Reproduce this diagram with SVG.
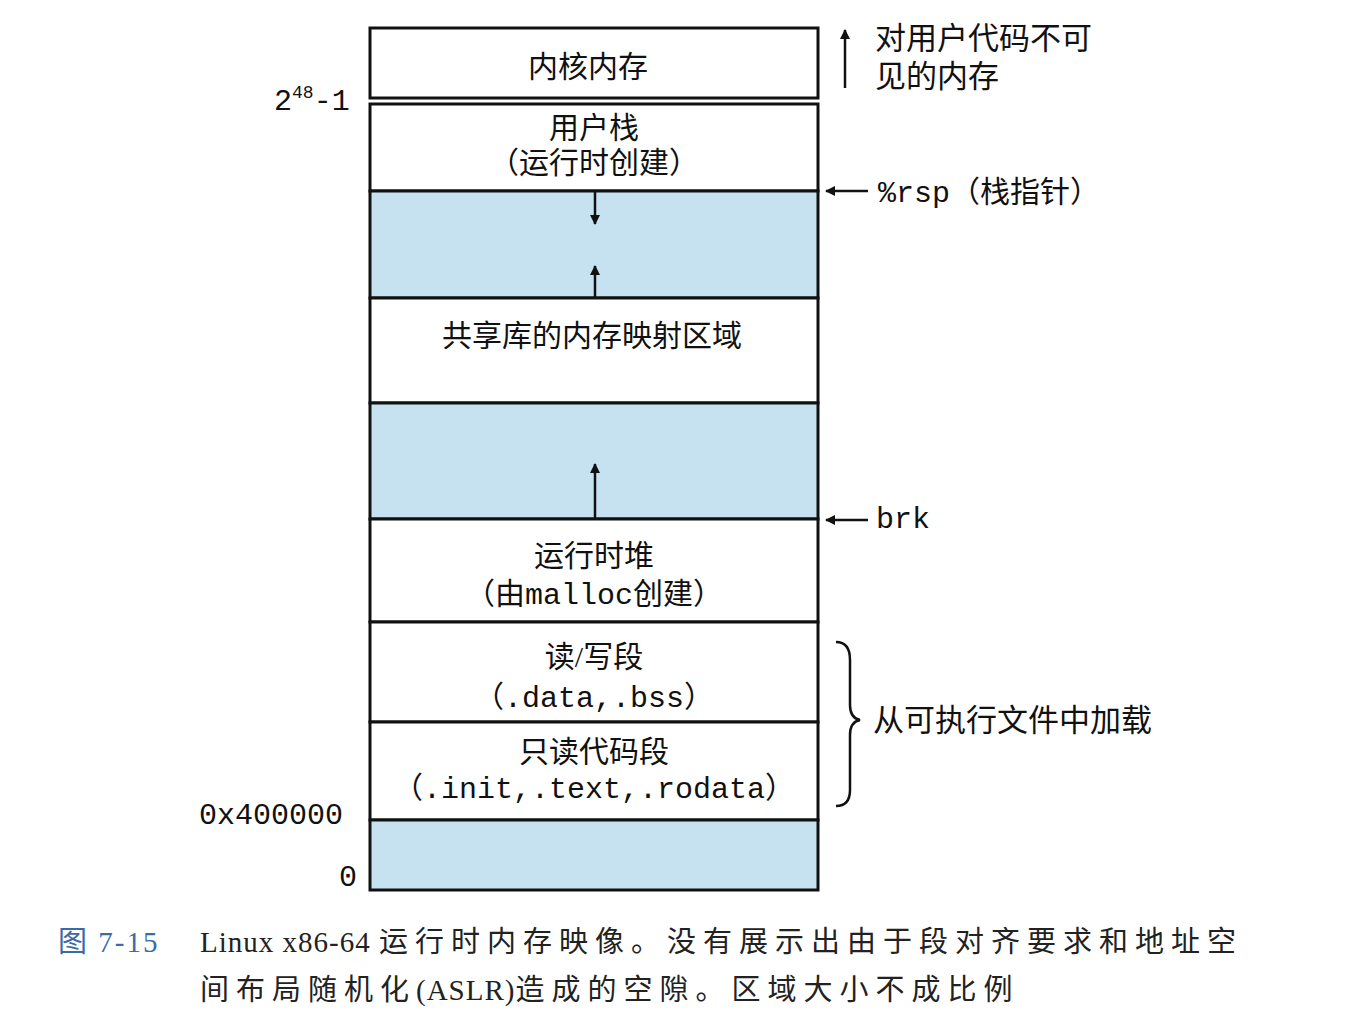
<svg xmlns="http://www.w3.org/2000/svg" width="1363" height="1034" viewBox="0 0 1363 1034">
<defs>
<style>
.box{fill:#fff;stroke:#111;stroke-width:3}
.blue{fill:#c6e2f0;stroke:#111;stroke-width:3}
.t{font-family:"Liberation Serif","Noto Sans CJK SC",serif;font-size:30px;fill:#111;text-anchor:middle}
.m{font-family:"Liberation Mono","Noto Sans CJK SC",monospace;font-size:30px;fill:#111}
.r{font-family:"Liberation Serif","Noto Sans CJK SC",serif;font-size:31px;fill:#111}
.ln{stroke:#111;stroke-width:2.5;fill:none}
.cap{font-family:"Liberation Serif","Noto Sans CJK SC",serif;font-size:29px;fill:#222;letter-spacing:7px}
.lat{letter-spacing:1px}
</style>
<marker id="ah" markerWidth="10" markerHeight="10" refX="9" refY="5" orient="auto" markerUnits="userSpaceOnUse"><path d="M0,0 L10,5 L0,10 z" fill="#111"/></marker>
</defs>
<g id="kernel"><rect class="box" x="370" y="28" width="448" height="70"/><text class="t" x="588" y="77">内核内存</text></g>
<g id="stack"><rect class="box" x="370" y="104" width="448" height="87"/><text class="t" x="594" y="138">用户栈</text><text class="t" x="594" y="173">（运行时创建）</text></g>
<g id="gap1"><rect class="blue" x="370" y="191" width="448" height="107"/></g>
<g id="shared"><rect class="box" x="370" y="298" width="448" height="105"/><text class="t" x="592" y="346">共享库的内存映射区域</text></g>
<g id="gap2"><rect class="blue" x="370" y="403" width="448" height="116"/></g>
<g id="heap"><rect class="box" x="370" y="519" width="448" height="103"/><text class="t" x="594" y="566">运行时堆</text><text class="t" x="594" y="604">（由<tspan font-family="Liberation Mono,monospace">malloc</tspan>创建）</text></g>
<g id="rw"><rect class="box" x="370" y="622" width="448" height="100"/><text class="t" x="594" y="667">读/写段</text><text class="t" x="594" y="707">（<tspan font-family="Liberation Mono,monospace">.data,.bss</tspan>）</text></g>
<g id="ro"><rect class="box" x="370" y="722" width="448" height="98"/><text class="t" x="594" y="762">只读代码段</text><text class="t" x="594" y="798">（<tspan font-family="Liberation Mono,monospace">.init,.text,.rodata</tspan>）</text></g>
<g id="gap3"><rect class="blue" x="370" y="820" width="448" height="70"/></g>
<g id="labels">
<text class="m" x="274" y="110">2<tspan font-size="18" dy="-12">48</tspan><tspan dy="12">-1</tspan></text>
<text class="m" x="199" y="824">0x400000</text>
<text class="m" x="339" y="886">0</text>
<text class="r" x="875" y="49">对用户代码不可</text>
<text class="r" x="875" y="87">见的内存</text>
<text class="m" x="878" y="202">%rsp<tspan font-family="Liberation Serif,Noto Sans CJK SC,serif" font-size="30">（栈指针）</tspan></text>
<text class="m" x="876" y="528">brk</text>
<text class="r" x="873" y="731">从可执行文件中加载</text>
</g>
<g id="connectors">
<line class="ln" x1="595" y1="192" x2="595" y2="224" marker-end="url(#ah)"/>
<line class="ln" x1="595" y1="297" x2="595" y2="266" marker-end="url(#ah)"/>
<line class="ln" x1="595" y1="518" x2="595" y2="464" marker-end="url(#ah)"/>
<line class="ln" x1="845" y1="88" x2="845" y2="30" marker-end="url(#ah)"/>
<line class="ln" x1="868" y1="191" x2="826" y2="191" marker-end="url(#ah)"/>
<line class="ln" x1="868" y1="520" x2="826" y2="520" marker-end="url(#ah)"/>
<path class="ln" stroke-width="2" d="M836,642 Q850,642 850,660 L850,705 Q850,718 860,720 Q850,722 850,735 L850,790 Q850,806 836,806"/>
</g>
<g id="caption">
<text class="cap" x="58" y="952" style="fill:#3a6aa8;letter-spacing:2px">图 7-15</text>
<text class="cap" x="200" y="952"><tspan class="lat">Linux x86-64 </tspan>运行时内存映像。没有展示出由于段对齐要求和地址空</text>
<text class="cap" x="200" y="1000">间布局随机化<tspan class="lat">(ASLR)</tspan>造成的空隙。区域大小不成比例</text>
</g>
</svg>
